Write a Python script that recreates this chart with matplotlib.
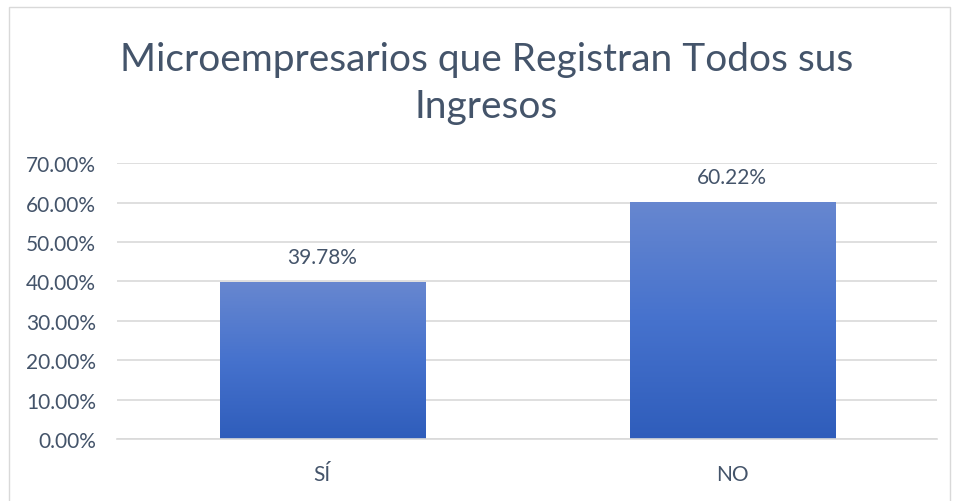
import numpy as np
import matplotlib.pyplot as plt
from matplotlib.colors import LinearSegmentedColormap
from matplotlib.patches import Rectangle

categories = ['SÍ', 'NO']
values = [39.78, 60.22]
yticks = [0, 10, 20, 30, 40, 50, 60, 70]

text_color = '#44546a'
grid_color = '#d9d9d9'
cmap = LinearSegmentedColormap.from_list('bar_grad', ['#2f5dbb', '#4672cd', '#6787d0'])

plt.rcParams['font.family'] = ['Lato', 'DejaVu Sans']

fig = plt.figure(figsize=(9.56, 5.02), dpi=100)
ax = fig.add_axes([0.1224, 0.1235, 0.8578, 0.5495])

x = np.arange(len(categories))
bars = ax.bar(x, values, width=0.5, color='none', zorder=2)

# vertical gradient inside every bar
grad = np.linspace(0, 1, 256).reshape(-1, 1)
for b in bars:
    x0, y0 = b.get_x(), b.get_y()
    w, h = b.get_width(), b.get_height()
    im = ax.imshow(grad, cmap=cmap, origin='lower', aspect='auto',
                   extent=[x0, x0 + w, y0, y0 + h], zorder=2)
    im.set_clip_path(b)

for xi, v in zip(x, values):
    ax.text(xi, v + 6.3, f'{v:.2f}%', ha='center', va='center',
            fontsize=15, color=text_color)

ax.set_xlim(-0.5, 1.5)
ax.set_ylim(0, 70)
ax.set_yticks(yticks)
ax.set_yticklabels([f'{t:.2f}%' for t in yticks])
ax.set_xticks(x)
ax.set_xticklabels(categories)
ax.tick_params(axis='both', length=0, labelsize=15, labelcolor=text_color)
ax.tick_params(axis='y', pad=15)
ax.tick_params(axis='x', pad=18)
ax.yaxis.grid(True, color=grid_color, linewidth=1.2, zorder=0)
ax.set_axisbelow(True)
for s in ['top', 'right', 'left']:
    ax.spines[s].set_visible(False)
ax.spines['bottom'].set_color(grid_color)
ax.spines['bottom'].set_linewidth(1.2)

fig.text(0.509, 0.834, 'Microempresarios que Registran Todos sus\nIngresos',
         ha='center', va='center', fontsize=28, color=text_color,
         linespacing=1.4)

# outer chart border
fig.patches.append(Rectangle((0.009, -0.01), 0.985, 0.995, transform=fig.transFigure,
                             fill=False, edgecolor='#d9d9d9', linewidth=1))

fig.savefig('out.png', dpi=100)
